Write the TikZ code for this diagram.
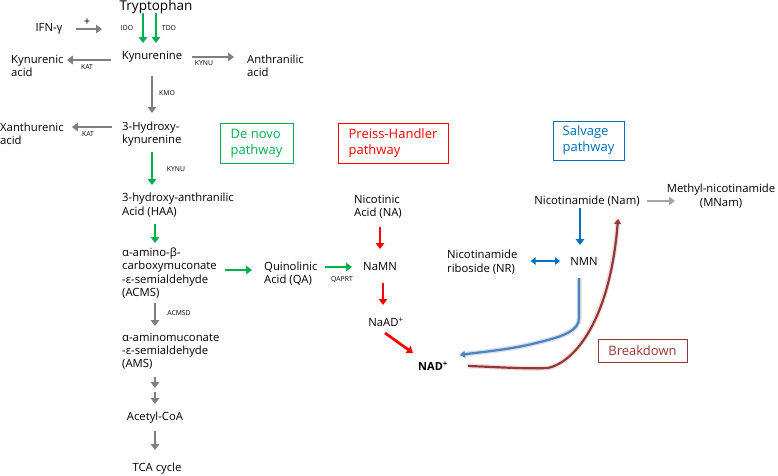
\documentclass[tikz,border=0pt]{standalone}
\usepackage{fontspec}
\setmainfont{Open Sans}
\usetikzlibrary{arrows.meta}
\definecolor{denovo}{RGB}{0,176,80}
\definecolor{preiss}{RGB}{255,0,0}
\definecolor{salv}{RGB}{0,112,192}
\definecolor{salvline}{RGB}{79,129,189}
\definecolor{brk}{RGB}{150,54,52}
\definecolor{grey}{RGB}{127,127,127}
\definecolor{lgrey}{RGB}{166,166,166}
\tikzset{
  txt/.style={font=\fontsize{11.3}{13.2}\selectfont,inner sep=1pt},
  ltxt/.style={txt,align=left,anchor=west},
  enz/.style={font=\fontsize{6.8}{7}\selectfont,inner sep=0pt},
  pbox/.style={draw,line width=0.8pt,font=\fontsize{13}{16}\selectfont,align=left,minimum height=40pt},
  arr/.style={line width=2.7pt,-{Triangle[length=6pt,width=8.5pt]}},
  greyarr/.style={arr,draw=grey},
  lgreyarr/.style={arr,draw=lgrey},
  greenarr/.style={arr,draw=denovo},
  redarr/.style={arr,draw=preiss},
  bluearr/.style={arr,draw=salv},
  curvearr/.style={line width=2.2pt,-{Triangle[length=5pt,width=7pt]}},
  glow/.style={line width=5pt,opacity=0.25}
}
\begin{document}
\begin{tikzpicture}[x=1pt,y=-1pt]
\useasboundingbox (0,0) rectangle (778,475);
% tryptophan -> kynurenine
\node[txt,font=\fontsize{13.5}{16}\selectfont] (trp) at (156,7) {Tryptophan};
\node[txt] (ifn) at (49,29) {IFN-γ};
\node[txt] (plus) at (87,22) {+};
\coordinate (ifntip) at (102,29);
\node[enz] (ido) at (127,28) {IDO};
\node[enz] (tdo) at (169,28) {TDO};
\node[txt] (kyn) at (152,57) {Kynurenine};
\node[ltxt] (kya) at (10,66) {Kynurenic\\acid};
\node[ltxt] (ana) at (246,66) {Anthranilic\\acid};
\node[enz] (kat1) at (87,67) {KAT};
\node[enz] (kynu1) at (204,63) {KYNU};
\node[enz] (kmo) at (167,93) {KMO};
\node[ltxt] (hk) at (121,134) {3-Hydroxy-\\kynurenine};
\node[ltxt] (xa) at (-1,134) {Xanthurenic\\acid};
\node[enz] (kat2) at (88,134) {KAT};
\node[enz] (kynu2) at (176,169) {KYNU};
% de novo chain
\node[ltxt] (haa) at (121,205) {3-hydroxy-anthranilic\\Acid (HAA)};
\node[ltxt] (acms) at (121,273) {α-amino-β-\\carboxymuconate\\-ε-semialdehyde\\(ACMS)};
\node[ltxt] (qa) at (263,274) {Quinolinic\\Acid (QA)};
\node[enz] (qaprt) at (342,280) {QAPRT};
\node[enz] (acmsd) at (179,313) {ACMSD};
\node[ltxt] (ams) at (121,351) {α-aminomuconate\\-ε-semialdehyde\\(AMS)};
\coordinate (amsmid) at (155,390);
\node[txt] (acoa) at (155,418) {Acetyl-CoA};
\node[txt] (tca) at (157,469) {TCA cycle};
% pathway boxes
\node[pbox,draw=denovo,text=denovo,minimum width=73pt] (denovo) at (256.5,143) {De novo\\pathway};
\node[pbox,draw=preiss,text=preiss,minimum width=110pt] (ph) at (393,143) {Preiss-Handler\\pathway};
\node[pbox,draw=salv,text=salv,minimum width=71pt,minimum height=39pt] (salvage) at (588.5,140.5) {Salvage\\pathway};
\node[pbox,draw=brk,text=brk,minimum width=89pt,minimum height=23pt] (brkdn) at (642.5,350.5) {Breakdown};
% preiss-handler and salvage
\node[ltxt] (na) at (353,207) {Nicotinic\\Acid (NA)};
\node[txt] (namn) at (380,267) {NaMN};
\node[txt] (naad) at (386,322) {NaAD\textsuperscript{+}};
\node[txt,font=\fontsize{11}{13}\selectfont\bfseries] (nad) at (433,366) {NAD\textsuperscript{+}};
\node[txt] (nam) at (587,201) {Nicotinamide (Nam)};
\node[txt,align=center] (mnam) at (721,196) {Methyl-nicotinamide\\(MNam)};
\node[txt] (nmn) at (584,261) {NMN};
\node[ltxt] (nr) at (446,262) {Nicotinamide\\riboside (NR)};

\draw[greyarr,shorten <=27pt] (ifn.center) -- (ifntip);
\draw[greenarr,shorten <=6pt,shorten >=14pt] ([xshift=-13pt]trp.center) -- ([xshift=-9pt]kyn.center);
\draw[greenarr,shorten <=6pt,shorten >=14pt] (trp.center) -- ([xshift=4pt]kyn.center);
\draw[greyarr,shorten <=41pt,shorten >=2pt] ([yshift=-3pt]kyn.center) -- ([yshift=-3pt]kyn.center -| kya.east);
\draw[greyarr,shorten <=40pt,shorten >=12pt] (kyn.center) -- (kyn.center -| ana.west);
\draw[greyarr,shorten <=19pt,shorten >=21pt] (kyn.center) -- (kyn.center |- hk.center);
\draw[greyarr,shorten <=9pt,shorten >=7pt] ([yshift=7pt]hk.west) -- ([yshift=7pt]hk.west -| xa.east);
\draw[greenarr,shorten <=18pt,shorten >=20pt] (hk.center -| kyn.center) -- (haa.center -| kyn.center);
\draw[greenarr,shorten <=19pt,shorten >=30pt] (haa.center -| acoa.center) -- (acms.center -| acoa.center);
\draw[greenarr,shorten <=7pt,shorten >=11pt] ([yshift=3pt]acms.east) -- ([yshift=3pt]acms.east -| qa.west);
\draw[greenarr,shorten <=6pt,shorten >=28pt] (qa.east |- namn.center) -- (namn.center);
\draw[greyarr,shorten <=30pt,shorten >=25pt] (acms.center -| acoa.center) -- (ams.center -| acoa.center);
\draw[greyarr,shorten <=26pt,shorten >=2pt] (ams.center -| acoa.center) -- (amsmid);
\draw[greyarr,shorten <=2pt,shorten >=14pt] (amsmid) -- (acoa.center);
\draw[greyarr,shorten <=13pt,shorten >=19pt] (acoa.center) -- (acoa.center |- tca.center);
\draw[redarr,shorten <=20pt,shorten >=18pt] (na.center -| namn.center) -- (namn.center);
\draw[redarr,shorten <=16pt,shorten >=17pt] ([xshift=3pt]namn.center) -- ([xshift=3pt]namn.center |- naad.center);
\draw[redarr] ([xshift=-1pt,yshift=-11pt]naad.center) -- ([xshift=-20pt,yshift=13pt]nad.center);
\draw[bluearr,shorten <=7pt,shorten >=16pt] ([xshift=-7pt]nam.center) -- ([xshift=-7pt]nam.center |- nmn.center);
\draw[bluearr,{Triangle[length=5pt,width=7.5pt]}-{Triangle[length=5pt,width=7.5pt]},line width=2.2pt,shorten <=12pt,shorten >=24pt] (nr.east |- nmn.center) -- (nmn.center);
\draw[lgreyarr,shorten <=60pt,shorten >=46pt] (nam.center) -- (nam.center -| mnam.center);
% salvage back to NAD+ and breakdown
\draw[glow,salvline] ([xshift=-5pt,yshift=-17pt]nmn.center) -- ++(0,40)
  .. controls +(0,12) and +(25,-6) .. ++(-39,24)
  .. controls +(-30,8) and +(20,-3) .. ([xshift=27pt,yshift=11pt]nad.center);
\draw[curvearr,draw=salvline] ([xshift=-5pt,yshift=-17pt]nmn.center) -- ++(0,40)
  .. controls +(0,12) and +(25,-6) .. ++(-39,24)
  .. controls +(-30,8) and +(20,-3) .. ([xshift=27pt,yshift=11pt]nad.center);
\draw[glow,brk,opacity=0.15] ([xshift=35pt]nad.center)
  .. controls +(30,1) and +(-25,1) .. ++(80,2)
  .. controls +(27,-6) and +(-8,101) .. ([xshift=31pt,yshift=-18pt]nam.center);
\draw[curvearr,draw=brk] ([xshift=35pt]nad.center)
  .. controls +(30,1) and +(-25,1) .. ++(80,2)
  .. controls +(27,-6) and +(-8,101) .. ([xshift=31pt,yshift=-18pt]nam.center);
\end{tikzpicture}
\end{document}
